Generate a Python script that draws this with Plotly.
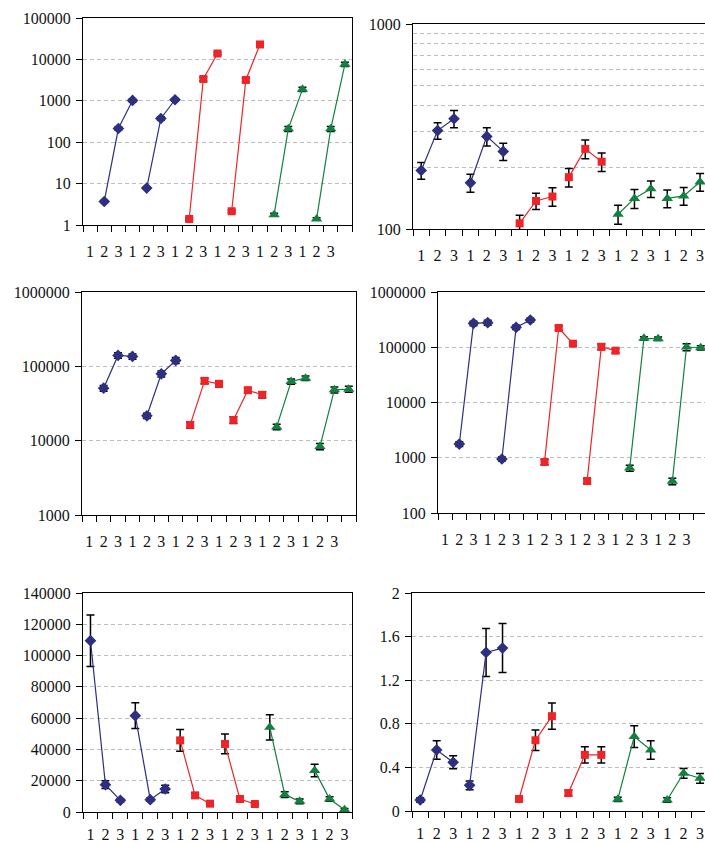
import plotly.graph_objects as go

# ---------------- data ----------------
TICK_LABELS = ["1", "2", "3"] * 6

# panel 1 (top-left, log)
P1_VALUES = [[3.7, 214, 1020], [7.8, 374, 1060],
             [1.4, 3370, 13900], [2.15, 3190, 22950],
             [1.78, 210, 1890], [1.4, 210, 7650]]
P1_ERR = [[0.2, 18, 70], [0.4, 35, 80],
          [0.1, 350, 1000], [0.15, 300, 1800],
          [0.15, 28, 220], [0.1, 28, 900]]

# panel 2 (top-right, log)
P2_VALUES = [[193, 302, 345], [168, 283, 239],
             [106.6, 137, 144], [179, 246, 213],
             [118, 141, 157], [141, 145, 169.6]]
P2_ERR = [[18, 28, 33], [17, 29, 23],
          [10, 12.5, 15], [18.5, 26, 22],
          [12.5, 15, 14.5], [14, 14.5, 17]]

# panel 3 (middle-left, log)
P3_VALUES = [[50800, 140000, 136000], [21600, 79300, 120000],
             [16300, 63800, 58200], [19000, 47800, 41400],
             [15300, 62500, 69300], [8330, 48300, 49300]]
P3_ERR = [[4500, 12000, 11000], [1800, 7500, 11000],
          [1600, 5500, 5500], [2000, 3500, 4000],
          [1300, 5000, 5000], [800, 4500, 4500]]

# panel 4 (middle-right, log)
P4_VALUES = [[1770, 271000, 279000], [950, 229000, 311000],
             [838, 223000, 116000], [380, 102000, 86700],
             [652, 145000, 143000], [374, 101000, 98000]]
P4_ERR = [[180, 25000, 30000], [80, 20000, 25000],
          [90, 20000, 9000], [40, 12000, 8000],
          [80, 10000, 10000], [50, 15000, 9000]]

# panel 5 (bottom-left, linear)
P5_VALUES = [[109500, 17500, 7460], [61600, 7880, 14700],
             [45800, 10650, 5330], [43500, 8300, 5100],
             [54100, 11100, 6800], [26600, 8300, 1500]]
P5_ERR = [[16500, 2500, 1000], [8300, 1000, 2400],
          [6900, 1500, 800], [6300, 1500, 700],
          [8000, 1800, 1500], [4000, 1500, 700]]

# panel 6 (bottom-right, linear)
P6_VALUES = [[0.101, 0.560, 0.447], [0.236, 1.455, 1.495],
             [0.110, 0.649, 0.870], [0.165, 0.515, 0.515],
             [0.107, 0.683, 0.560], [0.101, 0.346, 0.300]]
P6_ERR = [[0.02, 0.085, 0.06], [0.04, 0.22, 0.225],
          [0.02, 0.095, 0.12], [0.025, 0.075, 0.075],
          [0.02, 0.10, 0.085], [0.02, 0.045, 0.045]]

# ---------------- styles ----------------
W, H = 705, 843
COLORS = ["#2E2F80", "#2E2F80", "#EE2428", "#EE2428", "#12803F", "#12803F"]
SYMBOLS = ["diamond", "diamond", "square", "square", "triangle-up", "triangle-up"]
SIZES = [9, 9, 8, 8, 10, 10]
FONT = "Liberation Serif, Times New Roman, serif"
FSIZE = 16
GRID = "#BDBDBD"

panels = [
    dict(v=P1_VALUES, e=P1_ERR, xp=(83, 352), yp=(18, 225), xr=[-0.5, 18.5], off=1,
         ytype="log", yr=[0, 5], tv=[1, 10, 100, 1000, 10000, 100000],
         tt=["1", "10", "100", "1000", "10000", "100000"], minor=None, right=True, so=12),
    dict(v=P2_VALUES, e=P2_ERR, xp=(413, 705), yp=(24, 229), xr=[-0.5, 17.3], off=0,
         ytype="log", yr=[2, 3], tv=[100, 1000], tt=["100", "1000"],
         minor=[200, 300, 400, 500, 600, 700, 800, 900], right=False, so=12),
    dict(v=P3_VALUES, e=P3_ERR, xp=(82, 356), yp=(292, 515), xr=[-0.5, 18.5], off=1,
         ytype="log", yr=[3, 6], tv=[1000, 10000, 100000, 1000000],
         tt=["1000", "10000", "100000", "1000000"], minor=None, right=True, so=12),
    dict(v=P4_VALUES, e=P4_ERR, xp=(438, 705), yp=(292, 513), xr=[-0.5, 18.3], off=1,
         ytype="log", yr=[2, 6], tv=[100, 1000, 10000, 100000, 1000000],
         tt=["100", "1000", "10000", "100000", "1000000"], minor=None, right=False, so=12),
    dict(v=P5_VALUES, e=P5_ERR, xp=(83, 352), yp=(593, 812), xr=[-0.5, 17.5], off=0,
         ytype="linear", yr=[0, 140000], tv=[0, 20000, 40000, 60000, 80000, 100000, 120000, 140000],
         tt=["0", "20000", "40000", "60000", "80000", "100000", "120000", "140000"],
         minor=None, right=True, so=8),
    dict(v=P6_VALUES, e=P6_ERR, xp=(412, 705), yp=(593, 811), xr=[-0.5, 17.3], off=0,
         ytype="linear", yr=[0, 2], tv=[0, 0.4, 0.8, 1.2, 1.6, 2],
         tt=["0", "0.4", "0.8", "1.2", "1.6", "2"], minor=None, right=False, so=8),
]

fig = go.Figure()
layout = dict(width=W, height=H, margin=dict(l=0, r=0, t=0, b=0, autoexpand=False),
              autosize=False, paper_bgcolor="white", plot_bgcolor="white", showlegend=False,
              font=dict(family=FONT, size=FSIZE, color="#111111"))

for i, p in enumerate(panels):
    n = i + 1
    xa = "x" if n == 1 else f"x{n}"
    ya = "y" if n == 1 else f"y{n}"
    for s, (vals, errs) in enumerate(zip(p["v"], p["e"])):
        xs = [p["off"] + 3 * s + k for k in range(len(vals))]
        fig.add_trace(go.Scatter(
            x=xs, y=vals, xaxis=xa, yaxis=ya, mode="lines+markers",
            line=dict(color=COLORS[s], width=1.2),
            marker=dict(symbol=SYMBOLS[s], size=SIZES[s], color=COLORS[s]),
            error_y=dict(type="data", array=errs, visible=True, color="black",
                         thickness=1.5, width=4),
        ))
    nx = int(round(p["xr"][1] + 0.5)) + 1
    bounds = [k - 0.5 for k in range(nx + 1)]
    xkey = "xaxis" if n == 1 else f"xaxis{n}"
    ykey = "yaxis" if n == 1 else f"yaxis{n}"
    layout[xkey] = dict(
        domain=[p["xp"][0] / W, p["xp"][1] / W], range=p["xr"], anchor=ya,
        tickmode="array", tickvals=list(range(18)), ticktext=TICK_LABELS,
        ticks="", showgrid=False, zeroline=False, showline=True, linecolor="black",
        linewidth=1.3, mirror=True, ticklabelstandoff=p["so"], ticklabeloverflow="allow",
        tickfont=dict(family=FONT, size=FSIZE, color="#111111"),
        minor=dict(tickvals=bounds, ticks="outside", ticklen=6, tickcolor="black",
                   tickwidth=1.2, showgrid=False),
    )
    ycfg = dict(
        domain=[1 - p["yp"][1] / H, 1 - p["yp"][0] / H], range=p["yr"], type=p["ytype"],
        anchor=xa, tickmode="array", tickvals=p["tv"], ticktext=p["tt"],
        ticks="outside", ticklen=6, tickcolor="black", tickwidth=1.2,
        showgrid=True, gridcolor=GRID, gridwidth=1.3, griddash="4px,3px",
        zeroline=False, showline=True, linecolor="black", linewidth=1.3,
        mirror=p["right"], ticklabelstandoff=2,
        tickfont=dict(family=FONT, size=FSIZE, color="#111111"),
    )
    if p["minor"]:
        ycfg["minor"] = dict(tickvals=p["minor"], ticks="", showgrid=True,
                             gridcolor=GRID, gridwidth=1.3, griddash="4px,3px")
    layout[ykey] = ycfg

fig.update_layout(**layout)
fig.write_html("out.html", config={"displayModeBar": False},
               post_script="document.body.style.margin='0';document.body.style.padding='0';")
